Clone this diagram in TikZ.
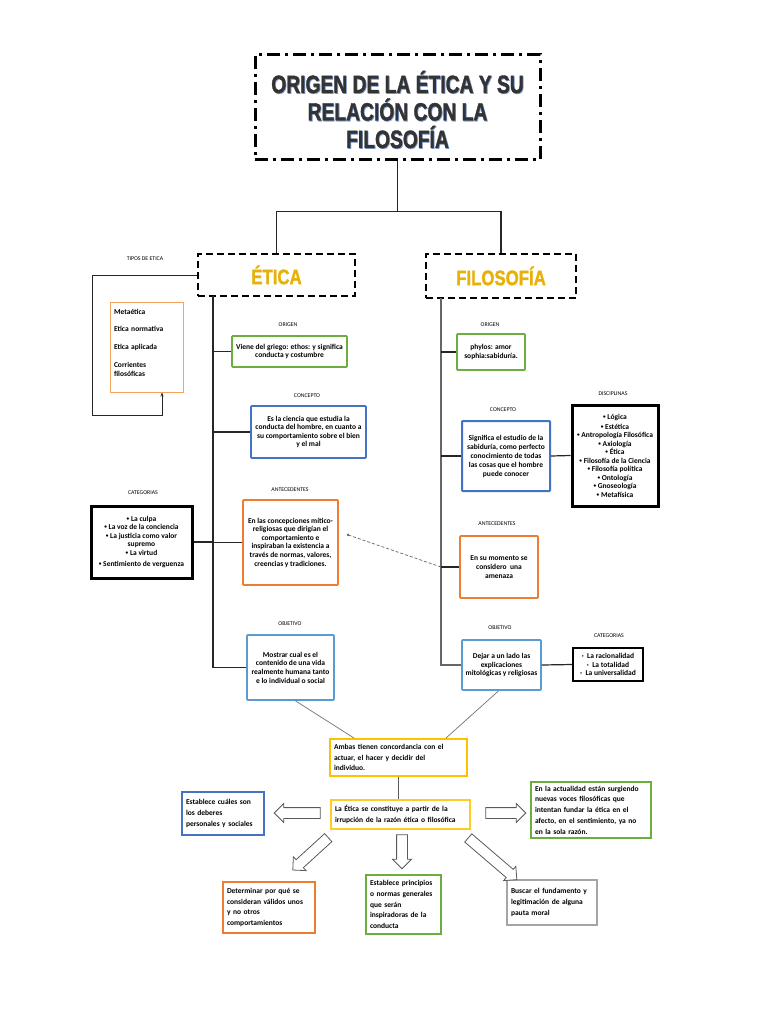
\documentclass[tikz,border=0pt]{standalone}
\usepackage{fontspec}
\newfontfamily\bodyfont{Carlito}
\newfontfamily\titlefont{Liberation Sans}[BoldFeatures={FakeBold=1.6}]
\usetikzlibrary{shapes.arrows,arrows.meta,calc}
\definecolor{cgreen}{HTML}{6CAE3E}
\definecolor{cblue}{HTML}{4472C4}
\definecolor{clblue}{HTML}{5B9BD5}
\definecolor{corange}{HTML}{ED7D31}
\definecolor{clorange}{HTML}{F5A45D}
\definecolor{cyellow}{HTML}{FFC000}
\definecolor{cgrey}{HTML}{A5A5A5}
\definecolor{cgold}{HTML}{E8B10A}
\definecolor{ctitle}{HTML}{333333}
\definecolor{cshadow}{HTML}{7E9FD6}
\newcommand{\ttl}[1]{\scalebox{0.77}[1]{#1}}
\newcommand{\hdl}[1]{\scalebox{0.8}[1]{#1}}
\newcommand{\bul}{\raisebox{0.3ex}{\scalebox{0.7}{•}}}
\tikzset{
 bx/.style={draw, line width=1.8pt, rounded corners=0.8pt, align=center, inner sep=2pt,
   font=\bodyfont\bfseries\fontsize{7.5}{8.6}\selectfont},
 bxl/.style={draw, line width=1.4pt, align=left, inner xsep=4pt, inner ysep=2pt,
   font=\bodyfont\bfseries\fontsize{7.5}{10.8}\selectfont},
 lbl/.style={font=\bodyfont\fontsize{5.8}{6}\selectfont, inner sep=0pt},
 trunk/.style={line width=1.2pt, draw=black!85},
 ftrunk/.style={line width=1.8pt, draw=black!60},
 headbox/.style={draw, line width=2.5pt, dash pattern=on 7pt off 4pt,
   font=\titlefont\bfseries\fontsize{21}{24}\selectfont, text=cgold},
 blockarrow/.style={single arrow, draw=black!65, fill=white, line width=0.8pt,
   inner sep=5pt, single arrow head extend=4pt, minimum width=18pt},
}
\begin{document}
\begin{tikzpicture}[x=1pt,y=-1pt]
\useasboundingbox[fill=white] (0,0) rectangle (768,1024);

% title
\node[draw, line width=3pt, dash pattern=on 13pt off 5pt on 3pt off 5pt,
  minimum width=285pt, minimum height=105pt] (title) at (397.5,107.5) {};
\node[align=center, text=cshadow, font=\titlefont\bfseries\fontsize{25}{27.5}\selectfont]
  (titleshadow) at (398.3,110.3) {\ttl{ORIGEN DE LA ÉTICA Y SU}\\\ttl{RELACIÓN CON LA}\\\ttl{FILOSOFÍA}};
\node[align=center, text=ctitle, font=\titlefont\bfseries\fontsize{25}{27.5}\selectfont]
  (titletext) at (397.5,109.5) {\ttl{ORIGEN DE LA ÉTICA Y SU}\\\ttl{RELACIÓN CON LA}\\\ttl{FILOSOFÍA}};

% headers
\node[headbox, minimum width=157pt, minimum height=42pt] (etica) at (276.5,275) {\hdl{ÉTICA}};
\node[headbox, minimum width=150pt, minimum height=44pt] (filo) at (501,276) {\hdl{FILOSOFÍA}};
\draw[trunk] (title.south) -- ++(0,50) -| (etica.north);
\draw[trunk] (title.south) -- ++(0,50) -| (filo.north);

% labels
\node[lbl] (lTipos) at (145,259) {TIPOS DE ETICA};
\node[lbl] (lOrigE) at (288,325) {ORIGEN};
\node[lbl] (lConcE) at (307,396) {CONCEPTO};
\node[lbl] (lAntE) at (290,490) {ANTECEDENTES};
\node[lbl] (lCatE) at (143,493) {CATEGORIAS};
\node[lbl] (lObjE) at (290,624) {OBJETIVO};
\node[lbl] (lOrigF) at (490,325) {ORIGEN};
\node[lbl] (lConcF) at (503,410) {CONCEPTO};
\node[lbl] (lDisc) at (613,394) {DISCIPLINAS};
\node[lbl] (lAntF) at (497,524) {ANTECEDENTES};
\node[lbl] (lObjF) at (500,628) {OBJETIVO};
\node[lbl] (lCatF) at (609,636) {CATEGORIAS};

% Etica branch boxes
\node[draw=clorange, line width=1pt, align=left, text width=65pt, inner xsep=4pt,
  minimum height=90pt, font=\bodyfont\bfseries\fontsize{7.5}{8.6}\selectfont] (tipos) at (146.5,347)
  {Metaética\\[8pt]Etica normativa\\[10pt]Etica aplicada\\[9pt]Corrientes\\filosóficas\\\mbox{}};
\node[bx, draw=cgreen, minimum width=115pt, minimum height=31pt] (origE) at (289.5,351.5)
  {Viene del griego: ethos: y significa\\conducta y costumbre};
\node[bx, draw=cblue, minimum width=115pt, minimum height=52pt] (concE) at (308.5,432)
  {Es la ciencia que estudia la\\conducta del hombre, en cuanto a\\su comportamiento sobre el bien\\y el mal};
\node[bx, draw=corange, minimum width=95pt, minimum height=85pt] (antE) at (290.5,542.5)
  {En las concepciones mítico-\\religiosas que dirigían el\\comportamiento e\\inspiraban la existencia a\\través de normas, valores,\\creencias y tradiciones.};
\node[bx, draw=black, line width=3pt, rounded corners=0pt, minimum width=101pt, minimum height=72pt,
  font=\bodyfont\bfseries\fontsize{7.5}{9.3}\selectfont] (catE) at (141.5,542)
  {\bul\ La culpa\\[-1.5pt]\bul\ La voz de la conciencia\\\bul\ La justicia como valor\\[-1.5pt]supremo\\\bul\ La virtud\\[1pt]\bul\ Sentimiento de verguenza};
\node[bx, draw=clblue, minimum width=87pt, minimum height=65pt] (objE) at (290.5,667.5)
  {Mostrar cual es el\\contenido de una vida\\realmente humana tanto\\e lo individual o social};

% Etica trunk
\coordinate (eTop) at (213,296);
\draw[trunk] (eTop) |- (objE.west);
\draw[trunk] (origE.west) -- (origE.west -| eTop);
\draw[trunk] (concE.west) -- (concE.west -| eTop);
\draw[trunk] (antE.west) -- (antE.west -| eTop);
\draw[trunk] (catE.east) -- (catE.east -| eTop);
\coordinate (lp) at (92,415);
\draw[trunk, line width=1pt, -{Stealth[length=4pt,width=3pt]}] (etica.west) -| (lp) -| ($(tipos.south)+(15.5,0)$);

% Filosofia branch boxes
\node[bx, draw=cgreen, minimum width=68pt, minimum height=36pt] (origF) at (491,352)
  {phylos: amor\\sophia:sabiduría.};
\node[bx, draw=cblue, line width=2pt, minimum width=88pt, minimum height=70pt,
  font=\bodyfont\bfseries\fontsize{7.5}{9}\selectfont] (concF) at (506,456)
  {Significa el estudio de la\\sabiduría, como perfecto\\conocimiento de todas\\las cosas que el hombre\\puede conocer};
\node[bx, draw=black, line width=3pt, rounded corners=0pt, minimum width=86pt, minimum height=101pt,
  font=\bodyfont\bfseries\fontsize{7.5}{8.5}\selectfont] (disc) at (615,455.5)
  {\bul\ Lógica\\[1.5pt]\bul\ Estética\\\bul\ Antropología Filosófica\\\bul\ Axiología\\\bul\ Ética\\\bul\ Filosofía de la Ciencia\\\bul\ Filosofía política\\\bul\ Ontología\\\bul\ Gnoseología\\\bul\ Metafísica};
\node[bx, draw=corange, minimum width=78pt, minimum height=62pt] (antF) at (499,567)
  {En su momento se\\considero\ \ una\\amenaza};
\node[bx, draw=clblue, minimum width=79pt, minimum height=50pt] (objF) at (501.5,665)
  {Dejar a un lado las\\explicaciones\\mitológicas y religiosas};
\node[bx, draw=black, line width=1.4pt, rounded corners=0pt, minimum width=70pt, minimum height=33pt] (catF) at (608,664.5)
  {·\ \ La racionalidad\\·\ \ La totalidad\\·\ \ La universalidad};

% Filosofia trunk
\coordinate (fTop) at (441,298);
\draw[ftrunk] (fTop) |- (objF.west);
\draw[trunk] (origF.west) -- (origF.west -| fTop);
\draw[trunk] (concF.west) -- (concF.west -| fTop);
\draw[trunk] (antF.west) -- (antF.west -| fTop);
\draw[trunk] (concF.east) -- (disc.west);
\draw[trunk] (objF.east) -- (catF.west);
\coordinate (dotEnd) at ($(antE.east)+(8,-8)$);
\draw[densely dashed, draw=black!60, line width=0.7pt, -{Circle[length=2.4pt]}] (antF.west -| fTop) -- (dotEnd);

% lower part
\node[bxl, draw=cyellow, line width=1.8pt, text width=129pt, minimum height=37pt] (ambas) at (398.5,757.5)
  {Ambas tienen concordancia con el\\actuar, el hacer y decidir del\\individuo.};
\node[bxl, draw=cyellow!85, line width=1.2pt, text width=131pt, minimum height=29pt] (laEtica) at (400.5,814.5)
  {La Ética se constituye a partir de la\\irrupción de la razón ética o filosófica};
\draw[draw=black!55, line width=0.7pt] ($(objE.south)+(5,0)$) -- ($(ambas.north west)+(25,0)$);
\draw[draw=black!55, line width=0.7pt] ($(objF.south)+(-3,0)$) -- ($(ambas.north east)+(-22,0)$);
\draw[line width=1.8pt, draw=black!65] (ambas.south) -- (ambas.south |- laEtica.north);

\node[bxl, draw=cblue, line width=1.8pt, text width=74pt, minimum height=43pt] (deberes) at (223,813.5)
  {Establece cuáles son\\los deberes\\personales y sociales};
\node[bxl, draw=cgreen, line width=1.2pt, text width=112pt, minimum height=56pt] (actual) at (591,810)
  {En la actualidad están surgiendo\\nuevas voces filosóficas que\\intentan fundar la ética en el\\afecto, en el sentimiento, ya no\\en la sola razón.};
\node[bxl, draw=corange, line width=1.4pt, text width=84pt, minimum height=51pt] (determinar) at (269,907.5)
  {Determinar por qué se\\consideran válidos unos\\y no otros\\comportamientos};
\node[bxl, draw=cgreen, line width=1.4pt, text width=67pt, minimum height=59pt] (principios) at (403.5,904.5)
  {Establece principios\\o normas generales\\que serán\\inspiradoras de la\\conducta};
\node[bxl, draw=cgrey, line width=1.4pt, text width=82pt, minimum height=45pt] (buscar) at (552,902.5)
  {Buscar el fundamento y\\legitimación de alguna\\pauta moral};

% block arrows
\node[blockarrow, minimum height=46pt, rotate=180] (arrL) at (300,813) {};
\node[blockarrow, minimum height=40pt] (arrR) at (503,813) {};
\node[blockarrow, minimum height=34pt, rotate=-90] (arrD) at (402,849) {};
\node[blockarrow, minimum height=48pt, rotate=-137.6] (arrDL) at (312.5,852) {};
\node[blockarrow, minimum height=64pt, rotate=-40.6] (arrDR) at (490.5,857) {};
\end{tikzpicture}
\end{document}
